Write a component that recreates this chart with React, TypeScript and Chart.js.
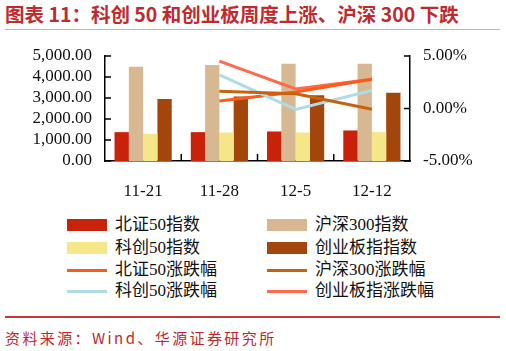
import React, { useEffect, useRef } from "react";
import { Chart, registerables } from "chart.js";

Chart.register(...registerables);

const categories = ["11-21", "11-28", "12-5", "12-12"];
const bz50Index = [1374, 1374, 1406, 1454];
const hs300Index = [4492, 4569, 4636, 4636];
const kc50Index = [1292, 1357, 1357, 1373];
const cybIndex = [2952, 3077, 3130, 3245];
const bz50Chg = [null, 0.71, 1.57, 2.78];
const hs300Chg = [null, 1.64, 1.4, -0.08];
const kc50Chg = [null, 3.2, -0.08, 1.73];
const cybChg = [null, 4.52, 1.86, 2.78];
const leftTicks = [0, 1000, 2000, 3000, 4000, 5000];
const rightTicks = [-5, 0, 5];

const C = {
  bz: "#C8220A",
  hs: "#D8B892",
  kc: "#F6E68A",
  cyb: "#A2460C",
  bzL: "#FF5A1A",
  hsL: "#C8620E",
  kcL: "#ADDBE6",
  cybL: "#FF6A4C",
};

const innerTicks = {
  id: "innerTicks",
  afterDraw(chart: any) {
    const ctx = chart.ctx;
    const y = chart.scales.y;
    const y1 = chart.scales.y1;
    const x = chart.scales.x;
    const area = chart.chartArea;
    ctx.save();
    ctx.strokeStyle = "#000";
    ctx.lineWidth = 1.5;
    ctx.beginPath();
    y.ticks.forEach((t: any) => {
      const py = y.getPixelForValue(t.value);
      ctx.moveTo(area.left, py);
      ctx.lineTo(area.left + 6, py);
    });
    y1.ticks.forEach((t: any) => {
      const py = y1.getPixelForValue(t.value);
      ctx.moveTo(area.right - 6, py);
      ctx.lineTo(area.right, py);
    });
    for (let i = 1; i < categories.length; i++) {
      const px = (x.getPixelForValue(i - 1) + x.getPixelForValue(i)) / 2;
      ctx.moveTo(px, area.bottom);
      ctx.lineTo(px, area.bottom - 7);
    }
    ctx.stroke();
    ctx.restore();
  },
};

const tickFont = { family: "'Liberation Serif', 'Times New Roman', serif", size: 17 };

function ChartView() {
  const ref = useRef<HTMLCanvasElement>(null);
  useEffect(() => {
    if (!ref.current) return;
    const bar = (label: string, data: number[], color: string) => ({
      type: "bar" as const,
      label,
      data,
      backgroundColor: color,
      yAxisID: "y",
      order: 2,
      barPercentage: 1,
      categoryPercentage: 0.75,
    });
    const line = (label: string, data: (number | null)[], color: string) => ({
      type: "line" as const,
      label,
      data,
      borderColor: color,
      backgroundColor: color,
      borderWidth: 3,
      pointRadius: 0,
      yAxisID: "y1",
      order: 1,
      tension: 0,
    });
    const chart = new Chart(ref.current, {
      type: "bar",
      data: {
        labels: categories,
        datasets: [
          bar("北证50指数", bz50Index, C.bz),
          bar("沪深300指数", hs300Index, C.hs),
          bar("科创50指数", kc50Index, C.kc),
          bar("创业板指指数", cybIndex, C.cyb),
          line("沪深300涨跌幅", hs300Chg, C.hsL),
          line("科创50涨跌幅", kc50Chg, C.kcL),
          line("北证50涨跌幅", bz50Chg, C.bzL),
          line("创业板指涨跌幅", cybChg, C.cybL),
        ] as any,
      },
      options: {
        responsive: false,
        animation: false,
        layout: { padding: { top: 26, left: 0, right: 0, bottom: 0 } },
        plugins: { legend: { display: false }, tooltip: { enabled: false }, title: { display: false } },
        scales: {
          x: {
            grid: { display: false },
            border: { display: true, color: "#000", width: 1.5 },
            ticks: { font: tickFont, color: "#111", padding: 12, autoSkip: false, maxRotation: 0 },
            afterFit: (s: any) => {
              s.height = 44;
            },
          },
          y: {
            position: "left",
            min: 0,
            max: 5000,
            afterBuildTicks: (s: any) => {
              s.ticks = leftTicks.map((v) => ({ value: v }));
            },
            grid: { display: false, drawTicks: false },
            border: { display: true, color: "#000", width: 1.5 },
            ticks: {
              font: tickFont,
              color: "#111",
              padding: 13,
              autoSkip: false,
              callback: (v: any) =>
                Number(v).toLocaleString("en-US", { minimumFractionDigits: 2, maximumFractionDigits: 2 }),
            },
            afterFit: (s: any) => {
              s.width = 105;
            },
          },
          y1: {
            position: "right",
            min: -5,
            max: 5,
            afterBuildTicks: (s: any) => {
              s.ticks = rightTicks.map((v) => ({ value: v }));
            },
            grid: { display: false, drawTicks: false },
            border: { display: true, color: "#000", width: 1.5 },
            ticks: {
              font: tickFont,
              color: "#111",
              padding: 13,
              autoSkip: false,
              callback: (v: any) => Number(v).toFixed(2) + "%",
            },
            afterFit: (s: any) => {
              s.width = 96;
            },
          },
        },
      } as any,
      plugins: [innerTicks],
    });
    return () => chart.destroy();
  }, []);
  return <canvas ref={ref} width={506} height={175} style={{ display: "block" }} />;
}

const legendItems = [
  { label: "北证50指数", color: C.bz, kind: "box" },
  { label: "沪深300指数", color: C.hs, kind: "box" },
  { label: "科创50指数", color: C.kc, kind: "box" },
  { label: "创业板指指数", color: C.cyb, kind: "box" },
  { label: "北证50涨跌幅", color: C.bzL, kind: "line" },
  { label: "沪深300涨跌幅", color: C.hsL, kind: "line" },
  { label: "科创50涨跌幅", color: C.kcL, kind: "line" },
  { label: "创业板指涨跌幅", color: C.cybL, kind: "line" },
];

export default function App() {
  const rowY = [225, 248, 270, 291];
  return (
    <div
      style={{
        position: "absolute",
        left: 0,
        top: 0,
        width: 506,
        height: 351,
        background: "#fff",
        overflow: "hidden",
        fontFamily: "'Liberation Serif', 'Noto Sans CJK SC', serif",
      }}
    >
      <div
        style={{
          position: "absolute",
          left: 5,
          top: 1,
          fontFamily: "'Noto Sans CJK SC', sans-serif",
          fontWeight: 700,
          fontSize: 19.5,
          lineHeight: "26px",
          color: "#BE2A30",
          whiteSpace: "nowrap",
        }}
      >
        图表 11：科创 50 和创业板周度上涨、沪深 300 下跌
      </div>
      <div style={{ position: "absolute", left: 5, top: 29, width: 495, height: 1, background: "#E4A4A6" }} />
      <div style={{ position: "absolute", left: 0, top: 30 }}>
        <ChartView />
      </div>
      {legendItems.map((it, i) => {
        const col = i % 2;
        const row = Math.floor(i / 2);
        const bx = col === 0 ? 67 : 267;
        const cy = rowY[row];
        return (
          <React.Fragment key={it.label}>
            {it.kind === "box" ? (
              <div style={{ position: "absolute", left: bx, top: cy - 6, width: 40, height: 12, background: it.color }} />
            ) : (
              <div style={{ position: "absolute", left: bx, top: cy - 1.5, width: 40, height: 3, background: it.color }} />
            )}
            <div
              style={{
                position: "absolute",
                left: bx + 48,
                top: cy - 12,
                height: 24,
                lineHeight: "24px",
                fontSize: 17,
                color: "#111",
                whiteSpace: "nowrap",
              }}
            >
              {it.label}
            </div>
          </React.Fragment>
        );
      })}
      <div style={{ position: "absolute", left: 5, top: 316, width: 495, height: 2, background: "#C8363C" }} />
      <div
        style={{
          position: "absolute",
          left: 5,
          top: 328,
          fontFamily: "'Noto Sans CJK SC', sans-serif",
          fontSize: 15,
          lineHeight: "20px",
          letterSpacing: "2.4px",
          color: "#C0272D",
          whiteSpace: "nowrap",
        }}
      >
        资料来源：Wind、华源证券研究所
      </div>
    </div>
  );
}
